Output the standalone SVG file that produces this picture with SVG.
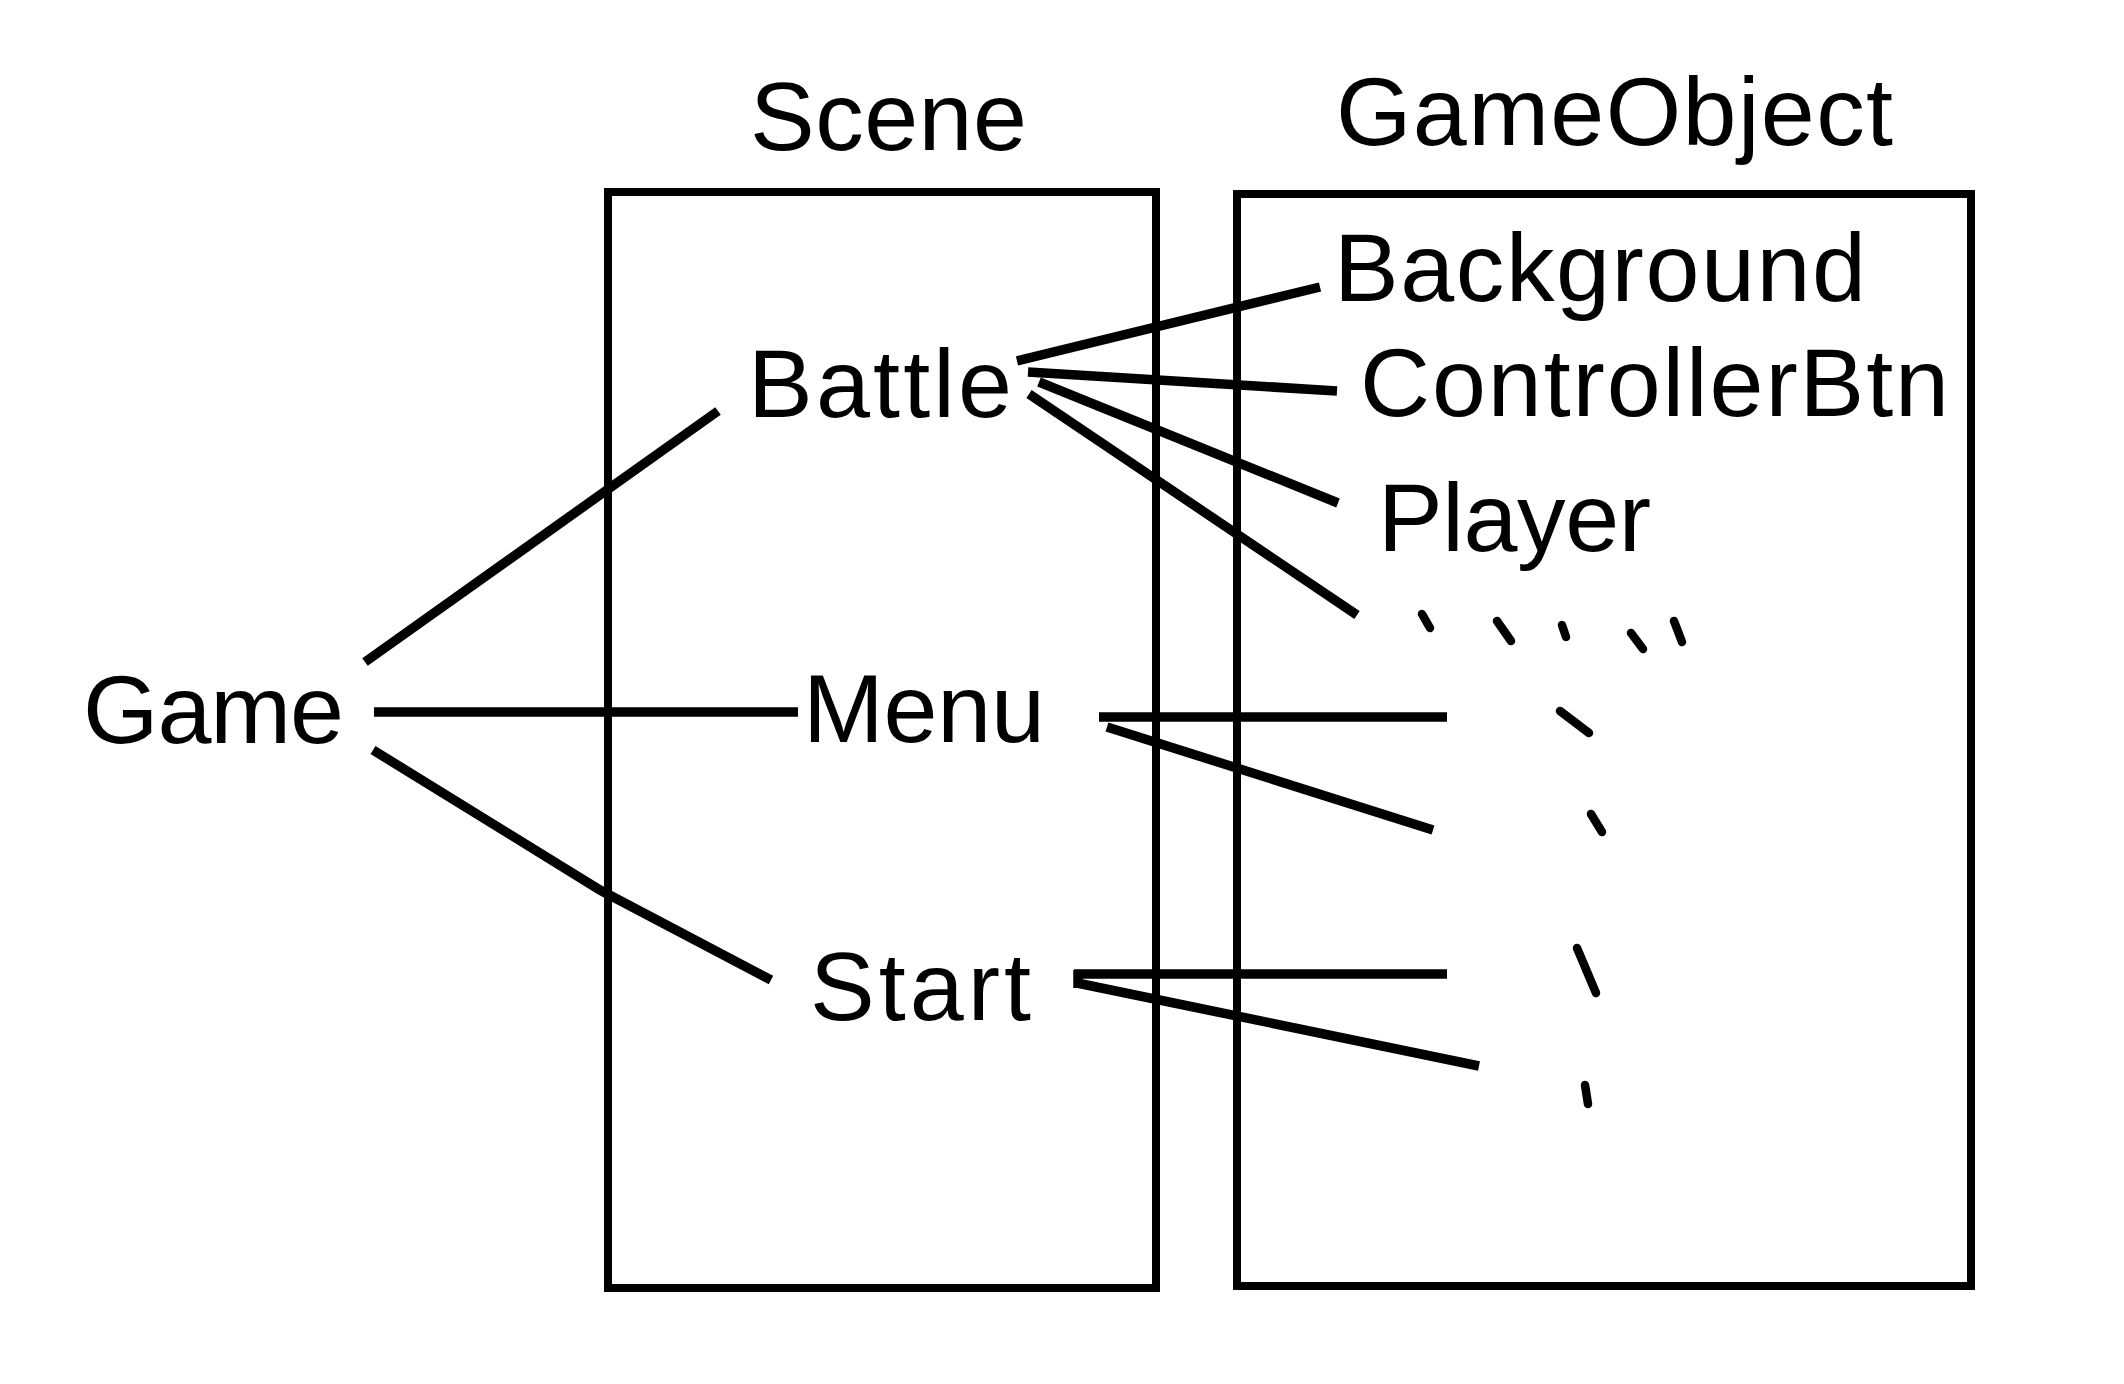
<svg xmlns="http://www.w3.org/2000/svg" width="2124" height="1384" viewBox="0 0 2124 1384">
<style>
  .lbl { font-family: "Liberation Sans", Arial, Helvetica, sans-serif; font-size: 97px; fill: #000; }
  .box { fill: none; stroke: #000; stroke-width: 8; }
  .ln { fill: none; stroke: #000; stroke-width: 9.5; stroke-linecap: butt; stroke-linejoin: miter; }
  .dash { fill: none; stroke: #000; stroke-width: 8.5; stroke-linecap: round; }
</style>
<rect width="2124" height="1384" fill="#fff"/>
<g id="scene-container">
  <rect class="box" x="608" y="192" width="548" height="1096"/>
  <text class="lbl" x="750" y="150" textLength="277">Scene</text>
</g>
<g id="gameobject-container">
  <rect class="box" x="1237" y="194" width="734" height="1092"/>
  <text class="lbl" x="1336" y="145" textLength="557">GameObject</text>
</g>
<g id="node-game"><text class="lbl" x="83" y="743" textLength="261">Game</text></g>
<g id="node-battle"><text class="lbl" x="748" y="417" textLength="264">Battle</text></g>
<g id="node-menu"><text class="lbl" x="803" y="742" textLength="242">Menu</text></g>
<g id="node-start"><text class="lbl" x="810" y="1020" textLength="221">Start</text></g>
<g id="node-background"><text class="lbl" x="1334" y="301" textLength="532">Background</text></g>
<g id="node-controllerbtn"><text class="lbl" x="1360" y="416" textLength="589">ControllerBtn</text></g>
<g id="node-player"><text class="lbl" x="1378" y="551" textLength="273">Player</text></g>
<g id="connectors">
  <line class="ln" x1="365" y1="662" x2="718" y2="411"/>
  <line class="ln" x1="374" y1="712" x2="798" y2="712"/>
  <polyline class="ln" points="373,750 600,890 771,980"/>
  <line class="ln" x1="1017" y1="361" x2="1320" y2="287"/>
  <line class="ln" x1="1028" y1="372" x2="1337" y2="391"/>
  <line class="ln" x1="1039" y1="382" x2="1338" y2="503"/>
  <line class="ln" x1="1029" y1="394" x2="1357" y2="615"/>
  <line class="ln" x1="1099" y1="717" x2="1447" y2="717"/>
  <line class="ln" x1="1107" y1="727" x2="1433" y2="830"/>
  <line class="ln" x1="1074" y1="974" x2="1447" y2="974"/>
  <line class="ln" x1="1077" y1="983" x2="1479" y2="1066"/>
  <line class="ln" x1="1078" y1="970" x2="1078" y2="988"/>
</g>
<g id="ellipsis-dots">
  <line class="dash" x1="1422" y1="614" x2="1430" y2="628"/>
  <line class="dash" x1="1497" y1="621" x2="1511" y2="641"/>
  <line class="dash" x1="1562" y1="625" x2="1566" y2="637"/>
  <line class="dash" x1="1631" y1="633" x2="1643" y2="649"/>
  <line class="dash" x1="1674" y1="621" x2="1682" y2="642"/>
  <line class="dash" x1="1560" y1="711" x2="1589" y2="733"/>
  <line class="dash" x1="1591" y1="814" x2="1602" y2="832"/>
  <line class="dash" x1="1577" y1="948" x2="1596" y2="993"/>
  <line class="dash" x1="1585" y1="1085" x2="1588" y2="1104"/>
</g>
</svg>
